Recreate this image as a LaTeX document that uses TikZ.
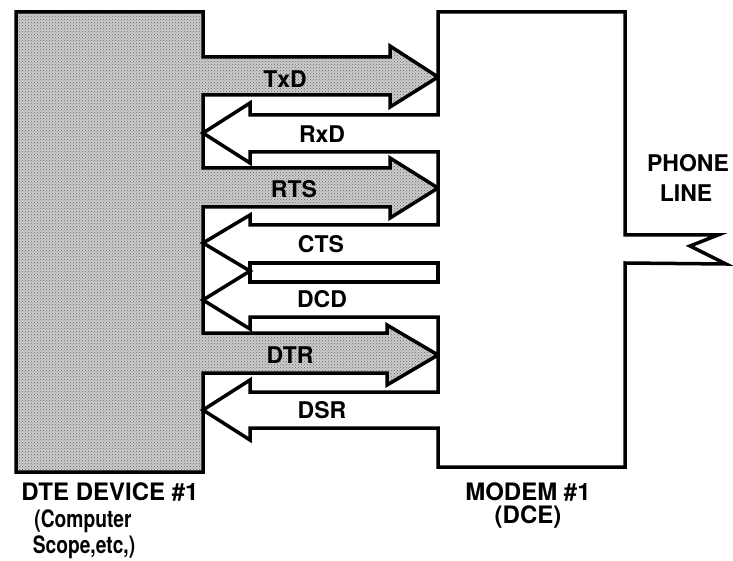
\documentclass[tikz,border=0pt]{standalone}
\usepackage{fontspec}
\usepackage{graphicx}
\setmainfont{TeX Gyre Heros}
\usetikzlibrary{patterns}
\begin{document}
\begin{tikzpicture}[x=1pt,y=-1pt]
\tikzset{
  outline/.style={line width=3.5pt, line join=miter, draw=black},
  shaded/.style={outline, preaction={fill=black!20}, pattern=crosshatch dots, pattern color=black!60},
  lbl/.style={font=\bfseries\fontsize{23}{27}\selectfont, anchor=base, inner sep=0pt},
  caption/.style={font=\bfseries\fontsize{24}{28}\selectfont, anchor=base, inner sep=0pt},
}
\useasboundingbox (0,0) rectangle (733,561);
% DTE device with its three outgoing (shaded) signal arrows
\draw[shaded] (16,12) -- (203,12) -- (203,57) -- (390,57) -- (390,46) -- (438,77)
  -- (390,107) -- (390,95) -- (203,95) -- (203,168) -- (390,168) -- (390,158)
  -- (438,188) -- (390,218) -- (390,207) -- (203,207) -- (203,333) -- (387,333)
  -- (387,325) -- (438,355) -- (387,385) -- (387,373) -- (203,373) -- (203,472)
  -- (16,472) -- cycle;
% Modem with its four outgoing (white) signal arrows and the phone line
\draw[outline, fill=white] (438,12) -- (625,12) -- (625,235) -- (718,235) -- (690,246)
  -- (726,264) -- (625,263) -- (625,467) -- (438,467) -- (438,428) -- (250,428)
  -- (250,440) -- (203,410) -- (250,380) -- (250,392) -- (438,392) -- (438,317)
  -- (250,317) -- (250,329) -- (203,300) -- (250,271) -- (203,243) -- (250,215)
  -- (250,225) -- (438,225) -- (438,152) -- (250,152) -- (250,163) -- (203,133)
  -- (250,103) -- (250,115) -- (438,115) -- cycle;
\draw[outline] (250,263) rectangle (438,282);
% signal labels
\node[lbl] (txd) at (285,88) {TxD};
\node[lbl] (rxd) at (322,143) {RxD};
\node[lbl] (rts) at (294,198) {RTS};
\node[lbl] (cts) at (321,253) {CTS};
\node[lbl] (dcd) at (322,307) {DCD};
\node[lbl] (dtr) at (290,363) {DTR};
\node[lbl] (dsr) at (322,418) {DSR};
% phone line
\node[lbl] (phone) at (688,172) {PHONE};
\node[lbl] (line) at (686,202) {LINE};
% captions
\node[caption] (dte1) at (110,500) {DTE DEVICE \#1};
\node[caption] (dte2) at (83,527) {\scalebox{0.8}[1]{(Computer}};
\node[caption] (dte3) at (84,553) {\scalebox{0.8}[1]{Scope,etc,)}};
\node[caption] (mod1) at (528,500) {MODEM \#1};
\node[caption] (mod2) at (528,523) {(DCE)};
\end{tikzpicture}
\end{document}
